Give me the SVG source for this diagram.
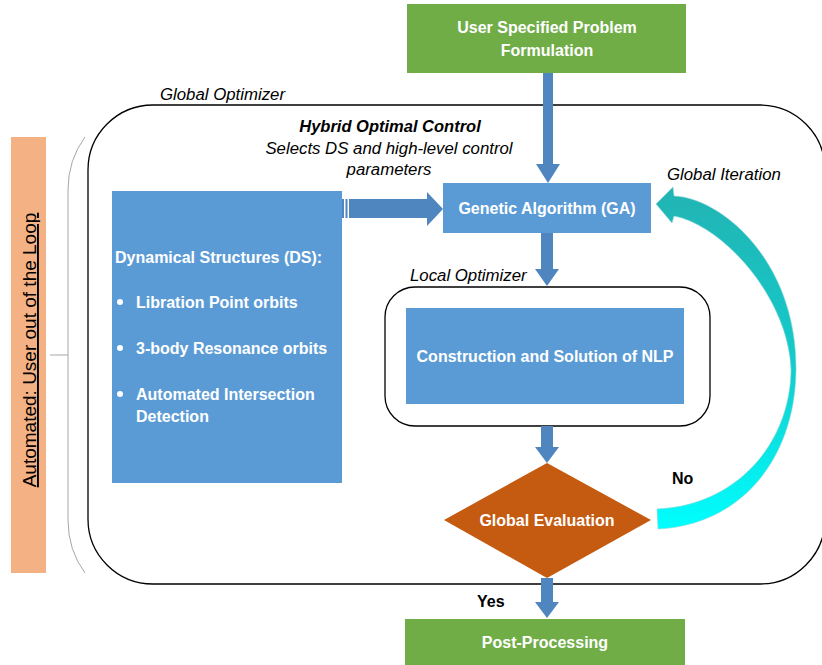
<svg xmlns="http://www.w3.org/2000/svg" width="822" height="665" viewBox="0 0 822 665">
<defs>
<style>
.box{fill:#5B9BD5}
.green{fill:#70AD47}
.arr{fill:#4F86BF}
.wt{font-family:"Liberation Sans",Arial,sans-serif;font-weight:bold;font-size:16px;fill:#fff}
.bt{font-family:"Liberation Sans",Arial,sans-serif;font-weight:bold;font-size:16px;fill:#000}
.it{font-family:"Liberation Sans",Arial,sans-serif;font-style:italic;font-size:16.8px;fill:#000}
</style>
<linearGradient id="cyan" gradientUnits="userSpaceOnUse" x1="0" y1="190" x2="0" y2="530">
<stop offset="0" stop-color="#22B4B4"/>
<stop offset="0.5" stop-color="#14CACA"/>
<stop offset="1" stop-color="#00FFFF"/>
</linearGradient>
</defs>
<rect width="822" height="665" fill="#fff"/>

<g id="side-label">
<rect x="11" y="137" width="35" height="436" fill="#F4B183"/>
<text transform="translate(36,350) rotate(-90)" text-anchor="middle" font-family="'Liberation Sans',Arial,sans-serif" font-size="19" text-decoration="underline" fill="#000">Automated: User out of the Loop</text>
</g>
<g id="bracket" fill="none" stroke="#A6A6A6" stroke-width="1">
<path d="M85,137 Q68,160 68,190 L68,520 Q68,550 85,573"/>
<line x1="50" y1="355" x2="68" y2="355"/>
</g>

<g id="global-optimizer">
<rect x="88" y="105" width="737" height="479" rx="65" ry="65" fill="none" stroke="#000" stroke-width="1.3"/>
<text class="it" x="160" y="100">Global Optimizer</text>
<text x="390" y="132" text-anchor="middle" font-family="'Liberation Sans',Arial,sans-serif" font-weight="bold" font-style="italic" font-size="16.5">Hybrid Optimal Control</text>
<text class="it" x="389" y="154" text-anchor="middle">Selects DS and high-level control</text>
<text class="it" x="389" y="175" text-anchor="middle">parameters</text>
</g>

<g id="problem">
<rect class="green" x="407" y="4" width="279" height="69"/>
<text class="wt" x="547" y="33" text-anchor="middle">User Specified Problem</text>
<text class="wt" x="547" y="56" text-anchor="middle">Formulation</text>
</g>

<g id="ds">
<rect class="box" x="112" y="191" width="230" height="292"/>
<text class="wt" x="115" y="263">Dynamical Structures (DS):</text>
<circle cx="120" cy="302" r="3" fill="#fff"/>
<text class="wt" x="136" y="308">Libration Point orbits</text>
<circle cx="120" cy="348" r="3" fill="#fff"/>
<text class="wt" x="136" y="354">3-body Resonance orbits</text>
<circle cx="120" cy="394" r="3" fill="#fff"/>
<text class="wt" x="136" y="400">Automated Intersection</text>
<text class="wt" x="136" y="422">Detection</text>
</g>

<g id="ga">
<rect class="box" x="443" y="183" width="208" height="50"/>
<text class="wt" x="547" y="214" text-anchor="middle">Genetic Algorithm (GA)</text>
</g>

<g id="local-optimizer">
<rect x="385" y="287" width="325" height="139" rx="30" ry="30" fill="none" stroke="#000" stroke-width="1.3"/>
<text class="it" x="410" y="281">Local Optimizer</text>
</g>

<g id="nlp">
<rect class="box" x="406" y="308" width="278" height="96"/>
<text class="wt" x="545" y="362" text-anchor="middle">Construction and Solution of NLP</text>
</g>

<g id="evaluation">
<polygon points="444,520 547,463 651,520 547,578" fill="#C55A11"/>
<text class="wt" x="547" y="526" text-anchor="middle">Global Evaluation</text>
</g>

<g id="post">
<rect class="green" x="405" y="619" width="280" height="50"/>
<text class="wt" x="545" y="648" text-anchor="middle">Post-Processing</text>
</g>

<g id="connectors">
<polygon class="arr" points="543,73 553,73 553,164 560,164 548,183 536,164 543,164"/>
<polygon class="arr" points="349,199 427,199 427,192 443,209 427,226 427,218 349,218"/>
<rect class="arr" x="342" y="199" width="2" height="19"/>
<rect class="arr" x="345.5" y="199" width="2" height="19"/>
<polygon class="arr" points="541,233 553,233 553,269 559,269 547,286 535,269 541,269"/>
<polygon class="arr" points="541,426 553,426 553,447 559,447 547,463 535,447 541,447"/>
<polygon class="arr" points="541,578 553,578 553,602 559,602 547,618 535,602 541,602"/>
<path d="M656,204 L673,187 L674,196 C722,198 797,262 796,370 C795,460 740,525 658,529 L657,509 C735,506 790,445 791,370 C789,300 725,226 674,216 L672,223 Z" fill="url(#cyan)" stroke="#8FD6D6" stroke-width="0.6"/>
<text class="bt" x="477" y="607">Yes</text>
<text class="bt" x="672" y="484">No</text>
<text class="it" x="667" y="180">Global Iteration</text>
</g>
</svg>
